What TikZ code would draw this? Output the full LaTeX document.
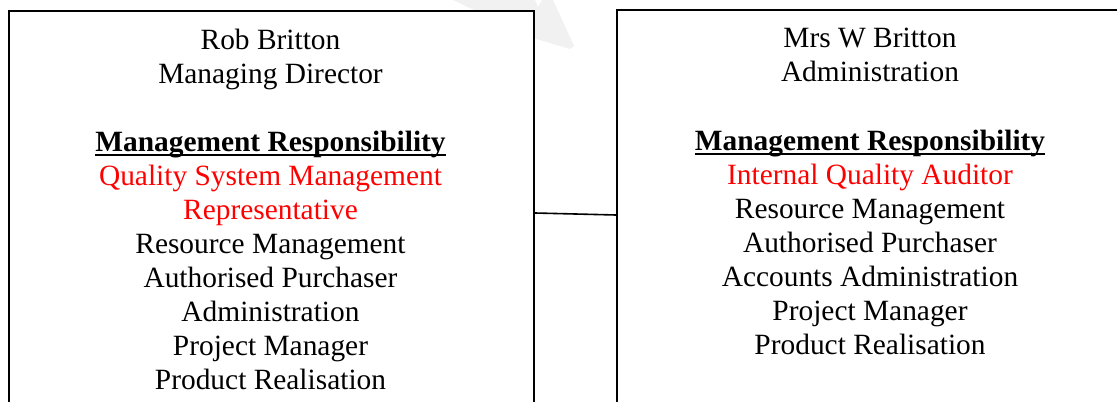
\documentclass[tikz,border=0pt]{standalone}
\usepackage{fontspec}
\setmainfont{Liberation Serif}
\usetikzlibrary{positioning}

% bold heading with a rule under it
\newcommand{\wordline}[1]{\setbox0\hbox{#1}\rlap{\rule[-2.2pt]{\wd0}{1.2pt}}\box0}

\begin{document}
\begin{tikzpicture}[x=0.5pt,y=-0.5pt,
        staffbox/.style={draw=black, line width=1pt, fill=white, anchor=north west,
            inner sep=0pt, minimum height=205pt},
        duties/.style={align=center, anchor=north, inner sep=0pt,
            font=\fontsize{14.7}{17}\selectfont},
        link/.style={draw=black, line width=0.8pt}]
    \useasboundingbox (0,0) rectangle (1117,401);
    \clip (0,0) rectangle (1117,401);

    % faint mark behind the top of the boxes
    \fill[gray!11] (453,0) -- (535,0) -- (538,7) -- (542,0) -- (553,0)
        -- (574,46) -- (570,49) -- (533,38) -- cycle;

    \node[staffbox, minimum width=262.5pt] (robbritton) at (8,10.5) {};
    \node[staffbox, minimum width=254pt] (mrsbritton) at (616,9) {};

    \node[duties] (robduties) at (270.5,29) {Rob Britton\\
        Managing Director\\[17pt]
        \wordline{\textbf{Management Responsibility}}\\
        \textcolor{red}{Quality System Management}\\
        \textcolor{red}{Representative}\\
        Resource Management\\
        Authorised Purchaser\\
        Administration\\
        Project Manager\\
        Product Realisation};

    \node[duties] (mrsduties) at (870,28) {Mrs W Britton\\
        Administration\\[17.5pt]
        \wordline{\textbf{Management Responsibility}}\\
        \textcolor{red}{Internal Quality Auditor}\\
        Resource Management\\
        Authorised Purchaser\\
        Accounts Administration\\
        Project Manager\\
        Product Realisation};

    \draw[link] ([yshift=-101.25pt]robbritton.north east) -- ([yshift=-103pt]mrsbritton.north west);
\end{tikzpicture}
\end{document}
